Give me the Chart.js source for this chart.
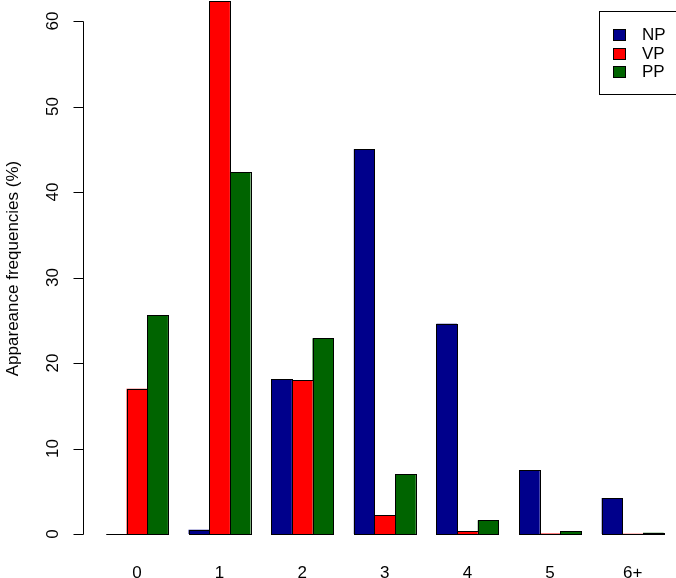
<!DOCTYPE html>
<html>
<head>
<meta charset="utf-8">
<script src="https://cdn.jsdelivr.net/npm/chart.js@4"></script>
<style>
html, body { margin: 0; padding: 0; background: #fff; }
#wrap { width: 676px; height: 578px; }
</style>
</head>
<body>
<div id="wrap"><canvas id="myChart" width="676" height="578"></canvas></div>
<script>
const categories = ['0', '1', '2', '3', '4', '5', '6+'];
const npValues = [0, 0.5, 18.1, 45.0, 24.6, 7.5, 4.2];
const vpValues = [17.0, 62.3, 18.0, 2.2, 0.3, 0.05, 0.02];
const ppValues = [25.6, 42.3, 22.9, 7.0, 1.6, 0.35, 0.15];
const yTicks = [0, 10, 20, 30, 40, 50, 60];
const yTitle = 'Appareance frequencies (%)';

const FONT = '17px "Liberation Sans", Arial, sans-serif';

// crisp black outlines round every bar, like R's barplot
const barOutline = {
    id: 'barOutline',
    afterDatasetsDraw(chart) {
        const ctx = chart.ctx;
        ctx.save();
        ctx.strokeStyle = '#000';
        ctx.lineWidth = 1;
        chart.data.datasets.forEach((ds, i) => {
            chart.getDatasetMeta(i).data.forEach(bar => {
                const p = bar.getProps(['x', 'y', 'base', 'width'], true);
                const l = Math.round(p.x - p.width / 2) + 0.5;
                const r = Math.round(p.x + p.width / 2) + 0.5;
                const t = Math.round(Math.min(p.y, p.base)) + 0.5;
                const b = Math.round(Math.max(p.y, p.base)) + 0.5;
                ctx.strokeRect(l, t, r - l, b - t);
            });
        });
        ctx.restore();
    }
};

// R-style axes, labels and boxed legend, drawn from the chart's own scales
const rStyle = {
    id: 'rStyle',
    afterDraw(chart) {
        const ctx = chart.ctx;
        const x = chart.scales.x;
        const y = chart.scales.y;
        const axX = 83.5;

        ctx.save();
        ctx.strokeStyle = '#000';
        ctx.lineWidth = 1;
        ctx.beginPath();
        ctx.moveTo(axX, Math.round(y.getPixelForValue(yTicks[0])) + 0.5);
        ctx.lineTo(axX, Math.round(y.getPixelForValue(yTicks[yTicks.length - 1])) + 0.5);
        yTicks.forEach(v => {
            const py = Math.round(y.getPixelForValue(v)) + 0.5;
            ctx.moveTo(axX - 10, py);
            ctx.lineTo(axX, py);
        });
        ctx.stroke();

        ctx.font = FONT;
        ctx.fillStyle = '#000';
        ctx.textAlign = 'center';

        // y tick labels, parallel to the axis
        yTicks.forEach(v => {
            ctx.save();
            ctx.translate(53, y.getPixelForValue(v));
            ctx.rotate(-Math.PI / 2);
            ctx.textBaseline = 'middle';
            ctx.fillText(String(v), 0, 0);
            ctx.restore();
        });

        // category labels under the groups
        ctx.textBaseline = 'alphabetic';
        categories.forEach((c, i) => ctx.fillText(c, x.getPixelForValue(i), 578));

        // y title
        ctx.save();
        ctx.translate(18, 268.5);
        ctx.rotate(-Math.PI / 2);
        ctx.fillText(yTitle, 0, 0);
        ctx.restore();

        // legend box
        ctx.strokeRect(599.5, 11.5, 77, 83);
        ctx.textAlign = 'left';
        ctx.textBaseline = 'middle';
        chart.data.datasets.forEach((ds, i) => {
            const rowY = 34.5 + i * 18.5;
            ctx.fillStyle = ds.backgroundColor;
            ctx.fillRect(613.5, Math.round(rowY - 5.5) + 0.5, 12, 11);
            ctx.strokeRect(613.5, Math.round(rowY - 5.5) + 0.5, 12, 11);
            ctx.fillStyle = '#000';
            ctx.fillText(ds.label, 642, rowY + 1);
        });
        ctx.restore();
    }
};

function makeSet(label, data, color) {
    return {
        label: label,
        data: data,
        backgroundColor: color,
        borderWidth: 0,
        barPercentage: 1,
        categoryPercentage: 0.75
    };
}

const ctx = document.getElementById('myChart').getContext('2d');
const chart = new Chart(ctx, {
    type: 'bar',
    data: {
        labels: categories,
        datasets: [
            makeSet('NP', npValues, '#00008B'),
            makeSet('VP', vpValues, '#FF0000'),
            makeSet('PP', ppValues, '#006400')
        ]
    },
    options: {
        responsive: false,
        animation: false,
        devicePixelRatio: 1,
        layout: {
            padding: { left: 95.6, right: 2, top: 0, bottom: 44 }
        },
        scales: {
            x: { display: false, offset: true },
            y: { display: false, min: 0, max: 62.46 }
        },
        plugins: {
            legend: { display: false },
            tooltip: { enabled: false }
        }
    },
    plugins: [barOutline, rStyle]
});
</script>
</body>
</html>
